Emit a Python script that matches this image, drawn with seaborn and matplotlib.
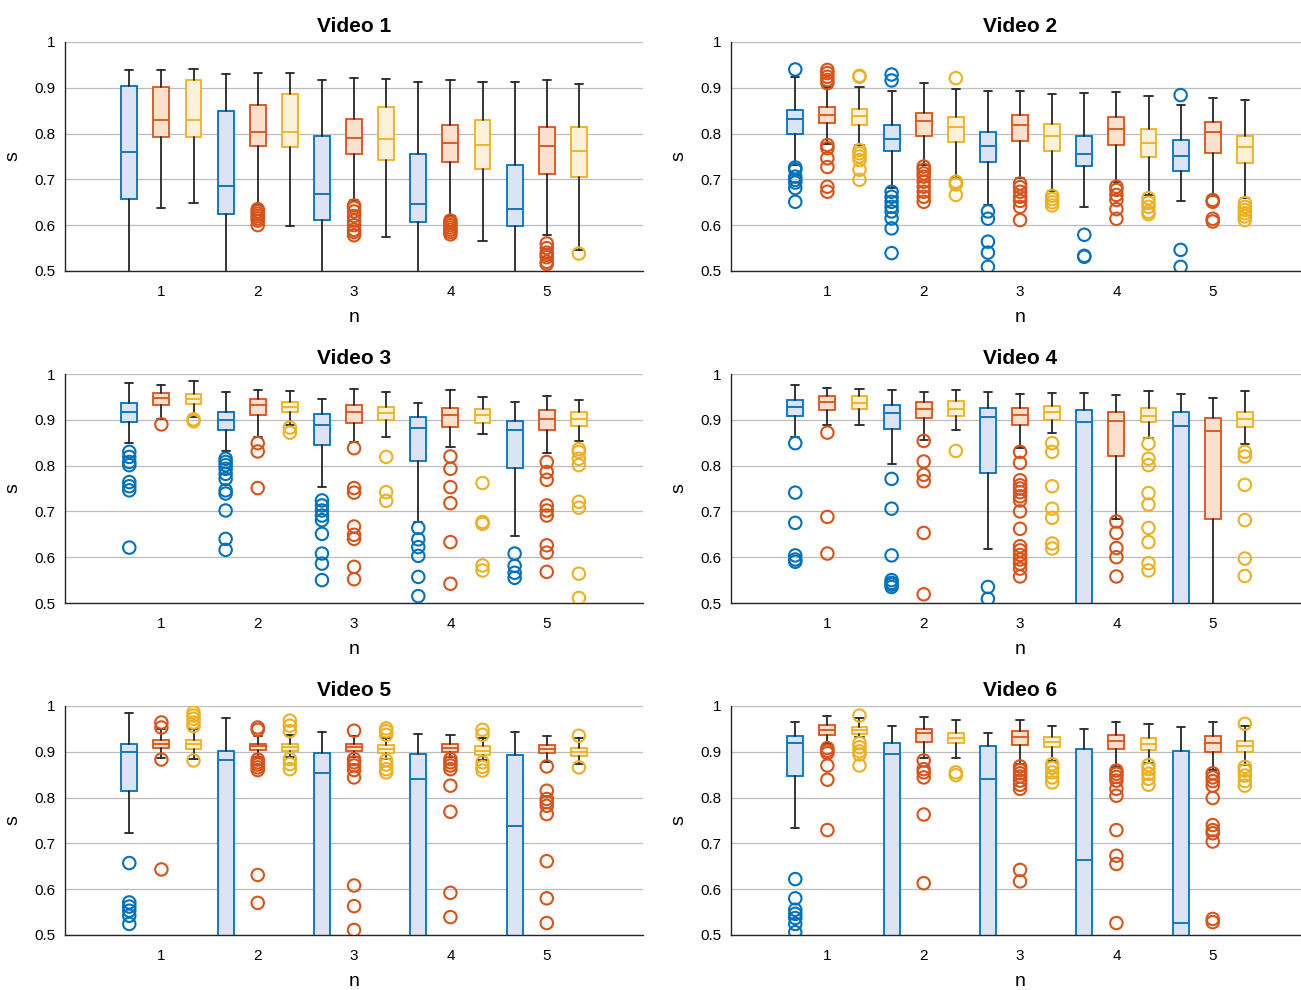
import numpy as np
import pandas as pd
import matplotlib
matplotlib.use("Agg")
import matplotlib.pyplot as plt
import seaborn as sns

# each row: [whislo, q1, median, q3, whishi] for n = 1..5
# boxes/whiskers that run below 0.5 get a value under the axis limit
N_VALUES = [1, 2, 3, 4, 5]
TITLES = ["Video 1", "Video 2", "Video 3", "Video 4", "Video 5", "Video 6"]

v1_blue = [[0.30, 0.657, 0.760, 0.904, 0.939],
           [0.30, 0.625, 0.685, 0.849, 0.929],
           [0.30, 0.611, 0.667, 0.795, 0.916],
           [0.30, 0.606, 0.646, 0.756, 0.913],
           [0.30, 0.598, 0.635, 0.731, 0.912]]
v1_orange = [[0.638, 0.792, 0.829, 0.901, 0.939],
             [0.645, 0.773, 0.804, 0.863, 0.932],
             [0.655, 0.755, 0.790, 0.831, 0.921],
             [0.620, 0.737, 0.780, 0.819, 0.918],
             [0.579, 0.712, 0.773, 0.814, 0.916]]
v1_yellow = [[0.649, 0.792, 0.829, 0.917, 0.940],
             [0.599, 0.770, 0.804, 0.886, 0.932],
             [0.575, 0.742, 0.788, 0.857, 0.919],
             [0.566, 0.723, 0.775, 0.830, 0.912],
             [0.545, 0.705, 0.763, 0.814, 0.908]]
v1_blue_out = [[], [], [], [], []]
v1_orange_out = [[],
                 [0.635, 0.630, 0.625, 0.620, 0.615, 0.610, 0.600],
                 [0.643, 0.638, 0.630, 0.620, 0.610, 0.600, 0.590, 0.585, 0.578],
                 [0.610, 0.605, 0.600, 0.595, 0.590, 0.585, 0.580],
                 [0.560, 0.550, 0.540, 0.535, 0.530, 0.520, 0.515]]
v1_yellow_out = [[], [], [], [], [0.538]]

v2_blue = [[0.731, 0.800, 0.831, 0.851, 0.924],
           [0.681, 0.761, 0.788, 0.818, 0.892],
           [0.644, 0.737, 0.772, 0.804, 0.893],
           [0.640, 0.729, 0.755, 0.794, 0.889],
           [0.653, 0.718, 0.751, 0.785, 0.863]]
v2_orange = [[0.777, 0.824, 0.841, 0.857, 0.901],
             [0.731, 0.795, 0.828, 0.846, 0.910],
             [0.704, 0.784, 0.819, 0.841, 0.894],
             [0.695, 0.774, 0.809, 0.836, 0.891],
             [0.664, 0.758, 0.803, 0.825, 0.878]]
v2_yellow = [[0.775, 0.818, 0.839, 0.854, 0.902],
             [0.702, 0.782, 0.814, 0.836, 0.897],
             [0.675, 0.762, 0.795, 0.821, 0.886],
             [0.666, 0.748, 0.780, 0.809, 0.881],
             [0.659, 0.736, 0.771, 0.795, 0.874]]
v2_blue_out = [[0.940, 0.726, 0.721, 0.706, 0.699, 0.693, 0.681, 0.651],
               [0.929, 0.916, 0.673, 0.662, 0.651, 0.640, 0.630, 0.615, 0.593, 0.539],
               [0.630, 0.614, 0.564, 0.540, 0.509],
               [0.579, 0.533, 0.531],
               [0.884, 0.546, 0.509]]
v2_orange_out = [[0.939, 0.932, 0.924, 0.917, 0.910, 0.775, 0.768, 0.746, 0.727, 0.684, 0.673],
                 [0.728, 0.721, 0.713, 0.706, 0.695, 0.684, 0.673, 0.662, 0.651],
                 [0.691, 0.683, 0.673, 0.662, 0.653, 0.640, 0.611],
                 [0.684, 0.677, 0.666, 0.655, 0.635, 0.614],
                 [0.655, 0.651, 0.614, 0.608]]
v2_yellow_out = [[0.926, 0.924, 0.764, 0.757, 0.750, 0.742, 0.721, 0.699],
                 [0.921, 0.695, 0.689, 0.666],
                 [0.664, 0.657, 0.650, 0.643],
                 [0.659, 0.649, 0.640, 0.629, 0.624],
                 [0.648, 0.640, 0.633, 0.626, 0.619, 0.611]]

v3_blue = [[0.849, 0.895, 0.918, 0.936, 0.981],
           [0.832, 0.878, 0.899, 0.918, 0.961],
           [0.753, 0.844, 0.889, 0.912, 0.945],
           [0.677, 0.811, 0.882, 0.906, 0.937],
           [0.646, 0.795, 0.878, 0.897, 0.939]]
v3_orange = [[0.902, 0.933, 0.948, 0.959, 0.977],
             [0.862, 0.911, 0.932, 0.946, 0.965],
             [0.852, 0.894, 0.918, 0.932, 0.967],
             [0.841, 0.884, 0.910, 0.925, 0.965],
             [0.828, 0.878, 0.902, 0.921, 0.952]]
v3_yellow = [[0.906, 0.934, 0.946, 0.956, 0.984],
             [0.888, 0.916, 0.929, 0.939, 0.964],
             [0.862, 0.900, 0.915, 0.928, 0.961],
             [0.870, 0.893, 0.910, 0.923, 0.950],
             [0.853, 0.886, 0.902, 0.917, 0.943]]
v3_blue_out = [[0.830, 0.819, 0.808, 0.801, 0.764, 0.755, 0.746, 0.621],
               [0.815, 0.808, 0.801, 0.793, 0.782, 0.771, 0.746, 0.739, 0.702, 0.640, 0.616],
               [0.724, 0.713, 0.702, 0.691, 0.681, 0.651, 0.608, 0.586, 0.550],
               [0.664, 0.639, 0.622, 0.603, 0.557, 0.515],
               [0.608, 0.581, 0.566, 0.555]]
v3_orange_out = [[0.890],
                 [0.849, 0.831, 0.751],
                 [0.838, 0.751, 0.741, 0.667, 0.649, 0.640, 0.579, 0.552],
                 [0.820, 0.793, 0.753, 0.718, 0.633, 0.542],
                 [0.808, 0.786, 0.769, 0.713, 0.702, 0.691, 0.626, 0.610, 0.568]]
v3_yellow_out = [[0.901, 0.897],
                 [0.883, 0.872],
                 [0.819, 0.742, 0.723],
                 [0.762, 0.677, 0.673, 0.582, 0.571],
                 [0.836, 0.830, 0.815, 0.801, 0.721, 0.708, 0.564, 0.511]]

v4_blue = [[0.862, 0.908, 0.928, 0.944, 0.977],
           [0.804, 0.881, 0.915, 0.932, 0.965],
           [0.618, 0.783, 0.906, 0.926, 0.961],
           [0.20, 0.35, 0.895, 0.921, 0.959],
           [0.20, 0.35, 0.886, 0.916, 0.956]]
v4_orange = [[0.888, 0.921, 0.939, 0.953, 0.969],
             [0.856, 0.904, 0.923, 0.938, 0.960],
             [0.838, 0.889, 0.910, 0.926, 0.956],
             [0.684, 0.822, 0.897, 0.916, 0.955],
             [0.30, 0.684, 0.875, 0.904, 0.948]]
v4_yellow = [[0.888, 0.924, 0.937, 0.951, 0.968],
             [0.877, 0.908, 0.924, 0.941, 0.965],
             [0.872, 0.900, 0.916, 0.931, 0.959],
             [0.860, 0.895, 0.908, 0.925, 0.963],
             [0.847, 0.884, 0.901, 0.918, 0.964]]
v4_blue_out = [[0.849, 0.741, 0.675, 0.604, 0.595, 0.590],
               [0.771, 0.706, 0.604, 0.550, 0.544, 0.540, 0.535],
               [0.535, 0.509], [], []]
v4_orange_out = [[0.872, 0.688, 0.608],
                 [0.854, 0.809, 0.780, 0.766, 0.653, 0.519],
                 [0.830, 0.806, 0.768, 0.757, 0.750, 0.742, 0.733, 0.724, 0.700,
                  0.662, 0.624, 0.615, 0.605, 0.595, 0.586, 0.575, 0.558],
                 [0.678, 0.653, 0.620, 0.600, 0.558],
                 []]
v4_yellow_out = [[],
                 [0.832],
                 [0.849, 0.830, 0.755, 0.706, 0.686, 0.630, 0.619],
                 [0.848, 0.815, 0.801, 0.740, 0.715, 0.664, 0.633, 0.587, 0.571],
                 [0.830, 0.820, 0.758, 0.681, 0.597, 0.559]]

v5_blue = [[0.723, 0.814, 0.900, 0.916, 0.984],
           [0.20, 0.35, 0.882, 0.902, 0.974],
           [0.20, 0.35, 0.853, 0.897, 0.943],
           [0.20, 0.35, 0.841, 0.895, 0.939],
           [0.20, 0.35, 0.739, 0.893, 0.943]]
v5_orange = [[0.886, 0.908, 0.917, 0.926, 0.950],
             [0.888, 0.904, 0.912, 0.918, 0.935],
             [0.888, 0.901, 0.910, 0.918, 0.935],
             [0.888, 0.899, 0.908, 0.916, 0.937],
             [0.877, 0.897, 0.906, 0.915, 0.934]]
v5_yellow = [[0.884, 0.906, 0.916, 0.926, 0.950],
             [0.888, 0.901, 0.910, 0.917, 0.937],
             [0.884, 0.897, 0.906, 0.915, 0.930],
             [0.881, 0.894, 0.902, 0.912, 0.930],
             [0.873, 0.891, 0.900, 0.908, 0.929]]
v5_blue_out = [[0.657, 0.571, 0.562, 0.553, 0.542, 0.524], [], [], [], []]
v5_orange_out = [[0.964, 0.953, 0.883, 0.643],
                 [0.953, 0.948, 0.883, 0.877, 0.872, 0.866, 0.860, 0.631, 0.570],
                 [0.946, 0.884, 0.877, 0.870, 0.860, 0.844, 0.608, 0.563, 0.511],
                 [0.884, 0.877, 0.870, 0.862, 0.826, 0.769, 0.592, 0.539],
                 [0.868, 0.815, 0.797, 0.790, 0.782, 0.764, 0.661, 0.580, 0.526]]
v5_yellow_out = [[0.986, 0.979, 0.972, 0.964, 0.956, 0.881],
                 [0.968, 0.957, 0.945, 0.884, 0.873, 0.862],
                 [0.951, 0.945, 0.937, 0.881, 0.872, 0.862, 0.855],
                 [0.948, 0.937, 0.877, 0.867, 0.859],
                 [0.935, 0.866]]

v6_blue = [[0.733, 0.846, 0.919, 0.934, 0.966],
           [0.20, 0.35, 0.895, 0.919, 0.956],
           [0.20, 0.35, 0.841, 0.913, 0.941],
           [0.20, 0.35, 0.664, 0.906, 0.950],
           [0.20, 0.35, 0.526, 0.901, 0.953]]
v6_orange = [[0.917, 0.937, 0.948, 0.959, 0.979],
             [0.886, 0.921, 0.940, 0.950, 0.975],
             [0.873, 0.915, 0.932, 0.945, 0.970],
             [0.866, 0.906, 0.923, 0.937, 0.964],
             [0.860, 0.899, 0.919, 0.934, 0.964]]
v6_yellow = [[0.932, 0.939, 0.948, 0.955, 0.974],
             [0.886, 0.919, 0.930, 0.940, 0.970],
             [0.879, 0.910, 0.922, 0.933, 0.956],
             [0.875, 0.904, 0.917, 0.929, 0.961],
             [0.872, 0.900, 0.912, 0.924, 0.957]]
v6_blue_out = [[0.622, 0.580, 0.555, 0.546, 0.537, 0.524, 0.506], [], [], [], []]
v6_orange_out = [[0.908, 0.902, 0.897, 0.870, 0.839, 0.729],
                 [0.881, 0.862, 0.855, 0.844, 0.763, 0.613],
                 [0.868, 0.860, 0.853, 0.846, 0.837, 0.828, 0.819, 0.642, 0.617],
                 [0.859, 0.852, 0.845, 0.837, 0.819, 0.804, 0.729, 0.673, 0.655, 0.526],
                 [0.853, 0.844, 0.836, 0.826, 0.799, 0.740, 0.729, 0.722, 0.704, 0.535, 0.528]]
v6_yellow_out = [[0.979, 0.919, 0.910, 0.901, 0.894, 0.870],
                 [0.855, 0.849],
                 [0.873, 0.865, 0.855, 0.844, 0.833],
                 [0.871, 0.862, 0.852, 0.841, 0.828],
                 [0.961, 0.867, 0.859, 0.848, 0.836, 0.826]]

videos = [
    (v1_blue, v1_orange, v1_yellow, v1_blue_out, v1_orange_out, v1_yellow_out),
    (v2_blue, v2_orange, v2_yellow, v2_blue_out, v2_orange_out, v2_yellow_out),
    (v3_blue, v3_orange, v3_yellow, v3_blue_out, v3_orange_out, v3_yellow_out),
    (v4_blue, v4_orange, v4_yellow, v4_blue_out, v4_orange_out, v4_yellow_out),
    (v5_blue, v5_orange, v5_yellow, v5_blue_out, v5_orange_out, v5_yellow_out),
    (v6_blue, v6_orange, v6_yellow, v6_blue_out, v6_orange_out, v6_yellow_out),
]

EDGE = ["#0072BD", "#D95319", "#EDB120"]
FILL = ["#DCE3F5", "#FCE0CE", "#FEF1DA"]
OFFSETS = [-1 / 3, 0.0, 1 / 3]
DARK = "#262626"

sns.set_style("white")
plt.rcParams["font.family"] = ["Liberation Sans", "DejaVu Sans"]

fig = plt.figure(figsize=(13.01, 9.90), dpi=100)

lefts = [0.0500, 0.5619]
bottoms = [0.7263, 0.3909, 0.0556]
W, H = 0.4443, 0.2313

for i, vid in enumerate(videos):
    ax = fig.add_axes([lefts[i % 2], bottoms[i // 2], W, H])
    ax.set_axisbelow(True)
    ax.yaxis.grid(True, color="#bdbdbd", linewidth=0.9)
    stats_sets, out_sets = vid[:3], vid[3:]
    for k in range(3):
        pos = np.array(N_VALUES) + OFFSETS[k]
        stats = [dict(whislo=r[0], q1=r[1], med=r[2], q3=r[3], whishi=r[4], fliers=[])
                 for r in stats_sets[k]]
        ax.bxp(stats, positions=pos, widths=0.165, capwidths=0.085,
               patch_artist=True, showfliers=False, manage_ticks=False,
               boxprops=dict(facecolor=FILL[k], edgecolor=EDGE[k], linewidth=1.3),
               medianprops=dict(color=EDGE[k], linewidth=1.3),
               whiskerprops=dict(color=DARK, linewidth=1.3),
               capprops=dict(color=DARK, linewidth=1.3))
        xs, ys = [], []
        for n, p, vals in zip(N_VALUES, pos, out_sets[k]):
            xs += [p] * len(vals)
            ys += list(vals)
        if ys:
            df = pd.DataFrame({"x": xs, "y": ys})
            sns.scatterplot(data=df, x="x", y="y", ax=ax, marker="o", s=80,
                            facecolor="none", edgecolor=EDGE[k], linewidth=1.5,
                            legend=False, zorder=4, clip_on=True)

    ax.set_xlim(0, 6)
    ax.set_ylim(0.5, 1.0)
    ax.set_xticks(N_VALUES)
    ax.set_xticklabels([str(n) for n in N_VALUES])
    ax.set_yticks([0.5, 0.6, 0.7, 0.8, 0.9, 1.0])
    ax.set_yticklabels(["0.5", "0.6", "0.7", "0.8", "0.9", "1"])
    ax.tick_params(direction="in", length=5, width=1, colors=DARK,
                   labelsize=11, labelcolor="black")
    ax.tick_params(axis="x", pad=10)
    ax.tick_params(axis="y", pad=7)
    for side in ["top", "right"]:
        ax.spines[side].set_visible(False)
    for side in ["left", "bottom"]:
        ax.spines[side].set_color(DARK)
        ax.spines[side].set_linewidth(1.0)
    ax.set_xlabel("n", fontsize=14, labelpad=7, color="black")
    ax.set_ylabel("s", fontsize=14, labelpad=9, color="black")
    ax.set_title(TITLES[i], fontsize=15, fontweight="bold", pad=7, color="black")

fig.savefig("out.png", dpi=100)
